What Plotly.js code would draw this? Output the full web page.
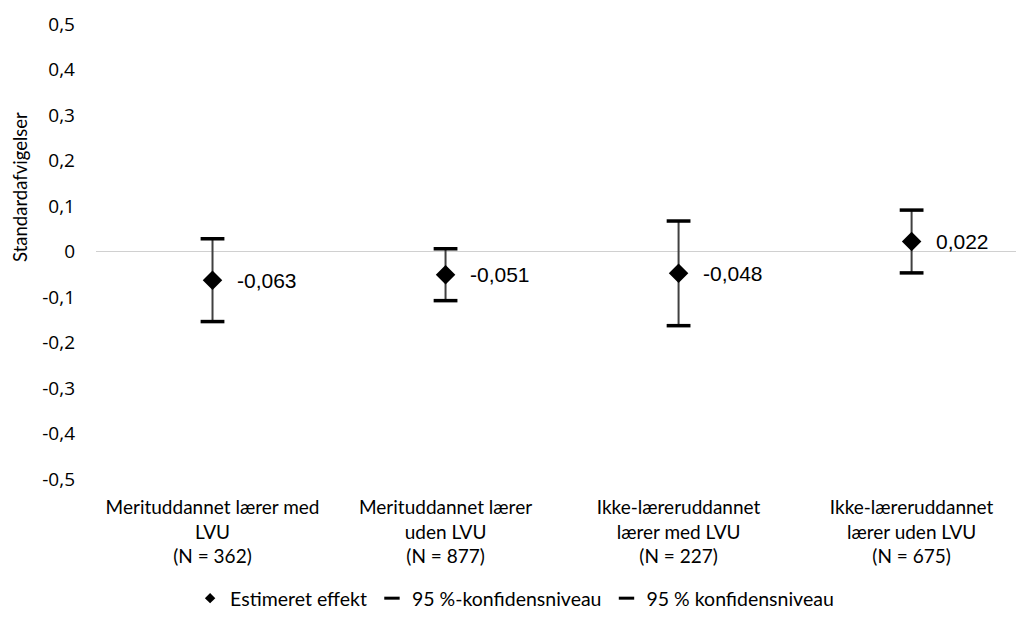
<!DOCTYPE html>
<html>
<head>
<meta charset="utf-8">
<script src="https://cdn.plot.ly/plotly-3.0.1.min.js"></script>
<style>html,body{margin:0;padding:0;background:#fff;}#chart{width:1016px;height:618px;}</style>
</head>
<body>
<div id="chart"></div>
<script>
const categories = [
  "Merituddannet lærer med<br>LVU<br>(N = 362)",
  "Merituddannet lærer<br>uden LVU<br>(N = 877)",
  "Ikke-læreruddannet<br>lærer med LVU<br>(N = 227)",
  "Ikke-læreruddannet<br>lærer uden LVU<br>(N = 675)"
];
const estimates = [-0.063, -0.051, -0.048, 0.022];
const upper = [0.028, 0.006, 0.067, 0.091];
const lower = [-0.154, -0.108, -0.163, -0.047];
const yTicks = [0.5, 0.4, 0.3, 0.2, 0.1, 0, -0.1, -0.2, -0.3, -0.4, -0.5];
const yTickLabels = ["0,5", "0,4", "0,3", "0,2", "0,1", "0", "-0,1", "-0,2", "-0,3", "-0,4", "-0,5"];
const legendNames = ["Estimeret effekt", "95 %-konfidensniveau", "95 % konfidensniveau"];
const yTitle = "Standardafvigelser";

const fmt = v => v.toFixed(3).replace(".", ",");
const xs = categories.map((c, i) => i);

const errPlus = upper.map((u, i) => u - estimates[i]);
const errMinus = lower.map((l, i) => estimates[i] - l);

const capStyle = {symbol: "line-ew", size: 17, line: {width: 3.5, color: "#000"}, color: "#000"};

const traces = [
  {
    x: xs, y: estimates, type: "scatter", mode: "markers",
    marker: {symbol: "diamond", size: 15, color: "#000"},
    error_y: {type: "data", symmetric: false, array: errPlus, arrayminus: errMinus,
      color: "#404040", thickness: 2, width: 0},
    showlegend: false, hoverinfo: "skip", cliponaxis: false
  },
  {x: xs, y: upper, type: "scatter", mode: "markers", marker: capStyle, showlegend: false, cliponaxis: false},
  {x: xs, y: lower, type: "scatter", mode: "markers", marker: capStyle, showlegend: false, cliponaxis: false},
  {x: [null], y: [null], type: "scatter", mode: "markers", name: legendNames[0],
    marker: {symbol: "diamond", size: 8, color: "#000"}},
  {x: [null], y: [null], type: "scatter", mode: "markers", name: legendNames[1],
    marker: {symbol: "line-ew", size: 11, line: {width: 3, color: "#000"}}},
  {x: [null], y: [null], type: "scatter", mode: "markers", name: legendNames[2],
    marker: {symbol: "line-ew", size: 11, line: {width: 3, color: "#000"}}}
];

const valueLabels = estimates.map((v, i) => ({
  x: xs[i], y: v, xref: "x", yref: "y", text: fmt(v), showarrow: false,
  xanchor: "left", yanchor: "middle", xshift: 22,
  font: {family: "Liberation Sans, Arial, sans-serif", size: 21, color: "#000"}
}));

const layout = {
  width: 1016, height: 618,
  margin: {l: 96, r: 0, t: 24, b: 136, pad: 0},
  paper_bgcolor: "#fff", plot_bgcolor: "#fff",
  showlegend: true,
  xaxis: {
    range: [-0.5, 3.448], tickvals: xs, ticktext: categories,
    showgrid: false, zeroline: false, showline: false, ticks: "",
    tickfont: {family: "Lato, sans-serif", size: 19, color: "#000"},
    ticklabelstandoff: 15, fixedrange: true
  },
  yaxis: {
    range: [-0.5, 0.5], tickvals: yTicks, ticktext: yTickLabels,
    showgrid: false, zeroline: true, zerolinecolor: "#d0d0d0", zerolinewidth: 1,
    showline: false, ticks: "",
    tickfont: {family: "Open Sans, sans-serif", size: 19, color: "#000"},
    ticklabelstandoff: 20, fixedrange: true
  },
  legend: {
    orientation: "h", x: 0.455, xanchor: "center", y: -0.264, yanchor: "middle",
    font: {family: "Lato, sans-serif", size: 19.5, color: "#000"},
    itemwidth: 30, tracegroupgap: 0
  },
  annotations: [{
    text: yTitle, xref: "paper", yref: "paper",
    x: (20 - 96) / 920, y: (482 - 188) / 458, xanchor: "center", yanchor: "middle",
    textangle: -90, showarrow: false,
    font: {family: "Lato, sans-serif", size: 18.5, color: "#000"}
  }].concat(valueLabels)
};

Plotly.newPlot("chart", traces, layout, {displayModeBar: false, staticPlot: true});
</script>
</body>
</html>
